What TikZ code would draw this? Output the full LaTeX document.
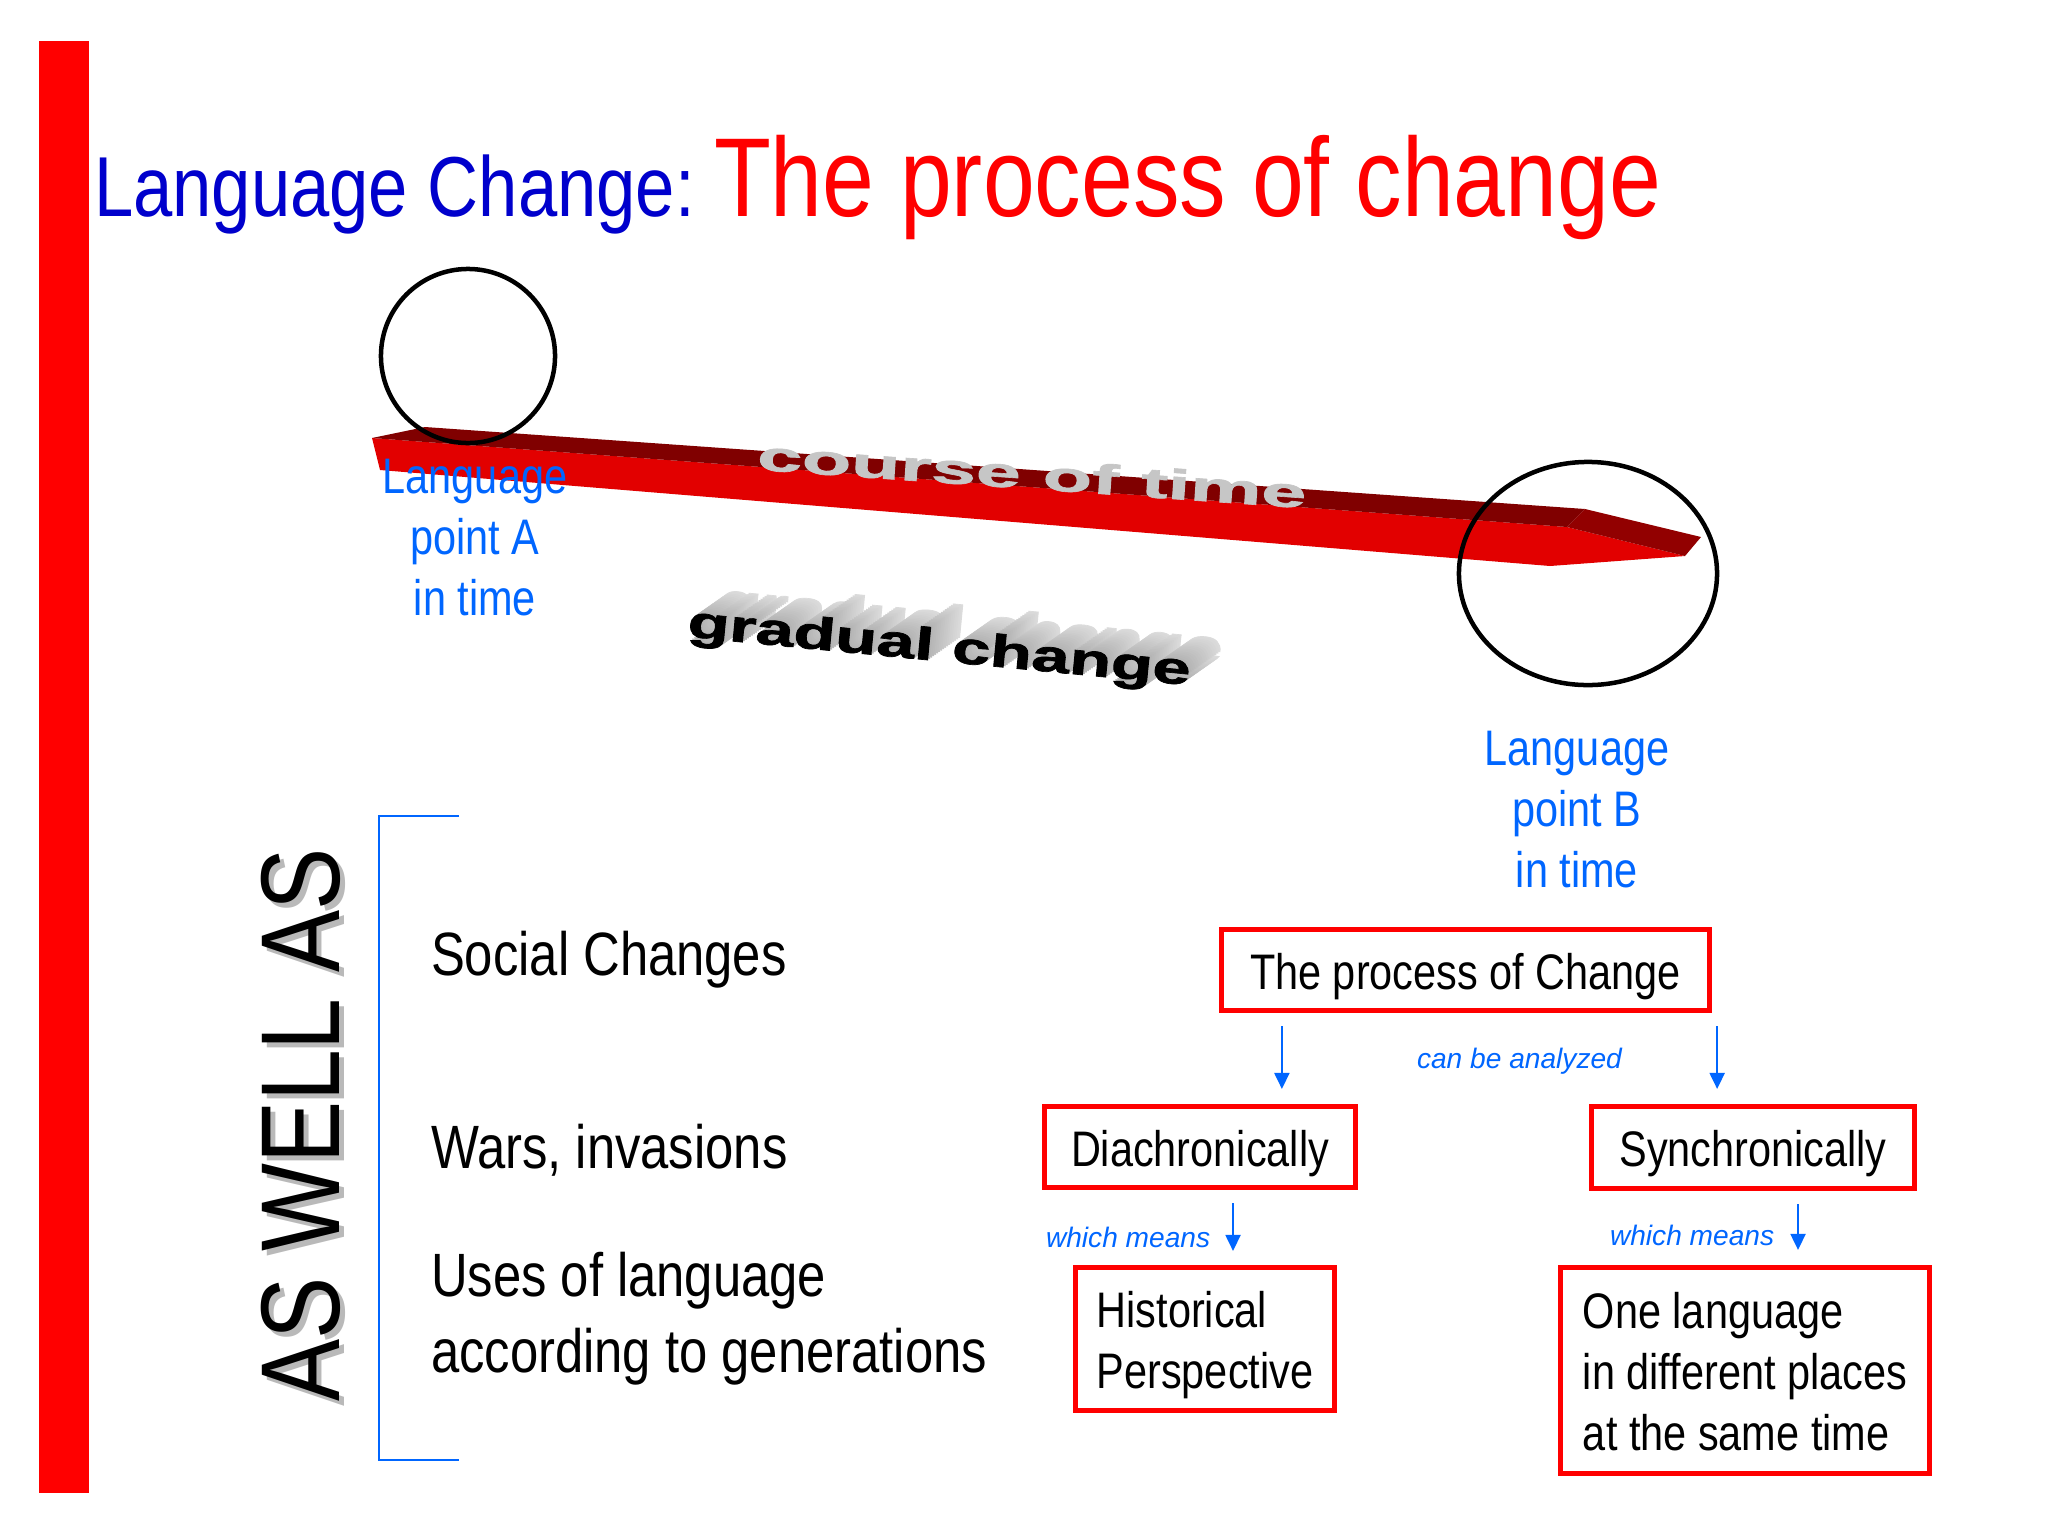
\documentclass[tikz,border=0pt]{standalone}
\usepackage{fontspec}
\usepackage{graphicx}
\setmainfont{Liberation Sans}[FakeStretch=0.83]
\newfontfamily\notefont{Liberation Sans}
\newfontfamily\heavyfont{Liberation Sans Bold}[FakeBold=1.5]
\usetikzlibrary{arrows.meta}
\definecolor{titleblue}{RGB}{0,0,204}
\definecolor{noteblue}{RGB}{0,102,255}
\definecolor{barfront}{RGB}{226,0,0}
\definecolor{bartop}{RGB}{128,0,0}
\definecolor{bartip}{RGB}{146,0,0}
\newcommand{\capstrut}{\rule{0pt}{0.5cm}}

\begin{document}
\begin{tikzpicture}[
    x=0.01cm, y=-0.01cm,
    every node/.style = {inner sep=0pt, outer sep=0pt},
    pointlabel/.style = {anchor=north, align=center, text=noteblue, font=\fontsize{14.2}{17.4}\selectfont},
    item/.style = {anchor=base west, align=left, font=\fontsize{17.4}{21.6}\selectfont},
    stage/.style = {draw=red, line width=0.05cm, align=left, font=\fontsize{14.2}{17.4}\selectfont,
                    execute at begin node=\capstrut, execute at end node=\rule[-0.12cm]{0pt}{0pt}},
    note/.style = {anchor=base west, text=noteblue, font=\notefont\itshape\fontsize{8}{9.6}\selectfont},
    flow/.style = {draw=noteblue, line width=0.02cm, -{Triangle[length=0.16cm,width=0.15cm]}},
    ring/.style = {draw=black, line width=0.045cm}
  ]
  \useasboundingbox (0,0) rectangle (2048,1536);
  \fill[white] (0,0) rectangle (2048,1536);
  \fill[red] (39,41) rectangle (89,1493);

  % title
  \node[anchor=base west, text=titleblue, font=\fontsize{24.2}{28}\selectfont] (titlelead) at (94,216) {Language Change:};
  \node[anchor=base west, text=red, font=\fontsize{31.9}{36}\selectfont] (titlemain) at (714,216) {The process of change};

  % the time bar
  \fill[barfront] (372,438) -- (1567,527) -- (1685,556) -- (1550,566) -- (380,470) -- cycle;
  \fill[bartop] (372,438) -- (425,427) -- (1585,509) -- (1567,527) -- cycle;
  \fill[bartip] (1567,527) -- (1585,509) -- (1701,537) -- (1685,556) -- cycle;
  \node[anchor=base, rotate=-4, text=gray!45, font=\heavyfont\fontsize{19.9}{20}\selectfont] (coursetext) at (1031,489) {\scalebox{1.15}[0.6]{course of time}};

  \foreach \k in {16,15,...,1} {
    \pgfmathtruncatemacro\tone{30-\k}
    \node[anchor=base, rotate=-5.5, text=black!\tone, font=\heavyfont\fontsize{18.5}{19}\selectfont] (gradshade\k) at (938+2*\k,661-1.4*\k) {\scalebox{1.05}[0.7]{gradual change}};
  }
  \node[anchor=base, rotate=-5.5, font=\heavyfont\fontsize{18.5}{19}\selectfont] (gradtext) at (938,661) {\scalebox{1.05}[0.7]{gradual change}};

  \draw[ring] (468,356) circle [radius=0.87cm];
  \draw[ring] (1588,573.5) ellipse [x radius=1.29cm, y radius=1.115cm];

  \node[pointlabel] (pointA) at (475,459) {Language\\point A\\in time};
  \node[pointlabel] (pointB) at (1577,731) {Language\\point B\\in time};

  % left column
  \node[rotate=90, text=gray!55, font=\fontsize{31.9}{32}\selectfont] (aswellshadow) at (306,1130) {AS WELL AS};
  \node[rotate=90, font=\fontsize{31.9}{32}\selectfont] (aswell) at (301,1125) {AS WELL AS};
  \draw[noteblue, line width=0.02cm] (459,816) -- (379,816) -- (379,1460) -- (459,1460);
  \node[item] (social) at (431,975) {Social Changes};
  \node[item] (wars) at (431,1168) {Wars, invasions};
  \node[item, anchor=north west] (uses) at (431,1252) {Uses of language\\according to generations};

  % right column
  \node[stage, minimum width=4.88cm, minimum height=0.81cm] (process) at (1465.5,970) {The process of Change};
  \node[stage, minimum width=3.11cm, minimum height=0.81cm] (diachron) at (1200,1147) {Diachronically};
  \node[stage, minimum width=3.23cm, minimum height=0.82cm] (synchron) at (1753,1147.5) {Synchronically};
  \node[stage, minimum width=2.59cm, minimum height=1.43cm] (history) at (1205,1339) {\capstrut Historical\\Perspective};
  \node[stage, minimum width=3.69cm, minimum height=2.06cm] (onelang) at (1745,1370.5) {\capstrut One language\\in different places\\at the same time};

  \draw[flow, shorten <=0.155cm, shorten >=0.175cm] ([xshift=0.605cm]process.south west) -- ([xshift=0.605cm]process.south west |- diachron.north);
  \draw[flow, shorten <=0.155cm, shorten >=0.175cm] ([xshift=0.075cm]process.south east) -- ([xshift=0.075cm]process.south east |- synchron.north);
  \draw[flow, shorten <=0.155cm, shorten >=0.165cm] ([xshift=1.885cm]diachron.south west) -- ([xshift=1.885cm]diachron.south west |- history.north);
  \draw[flow, shorten <=0.155cm, shorten >=0.175cm] ([xshift=2.065cm]synchron.south west) -- ([xshift=2.065cm]synchron.south west |- onelang.north);

  \node[note] (analyzed) at (1417,1068) {can be analyzed};
  \node[note] (meansleft) at (1046,1247) {which means};
  \node[note] (meansright) at (1610,1245) {which means};
\end{tikzpicture}
\end{document}
